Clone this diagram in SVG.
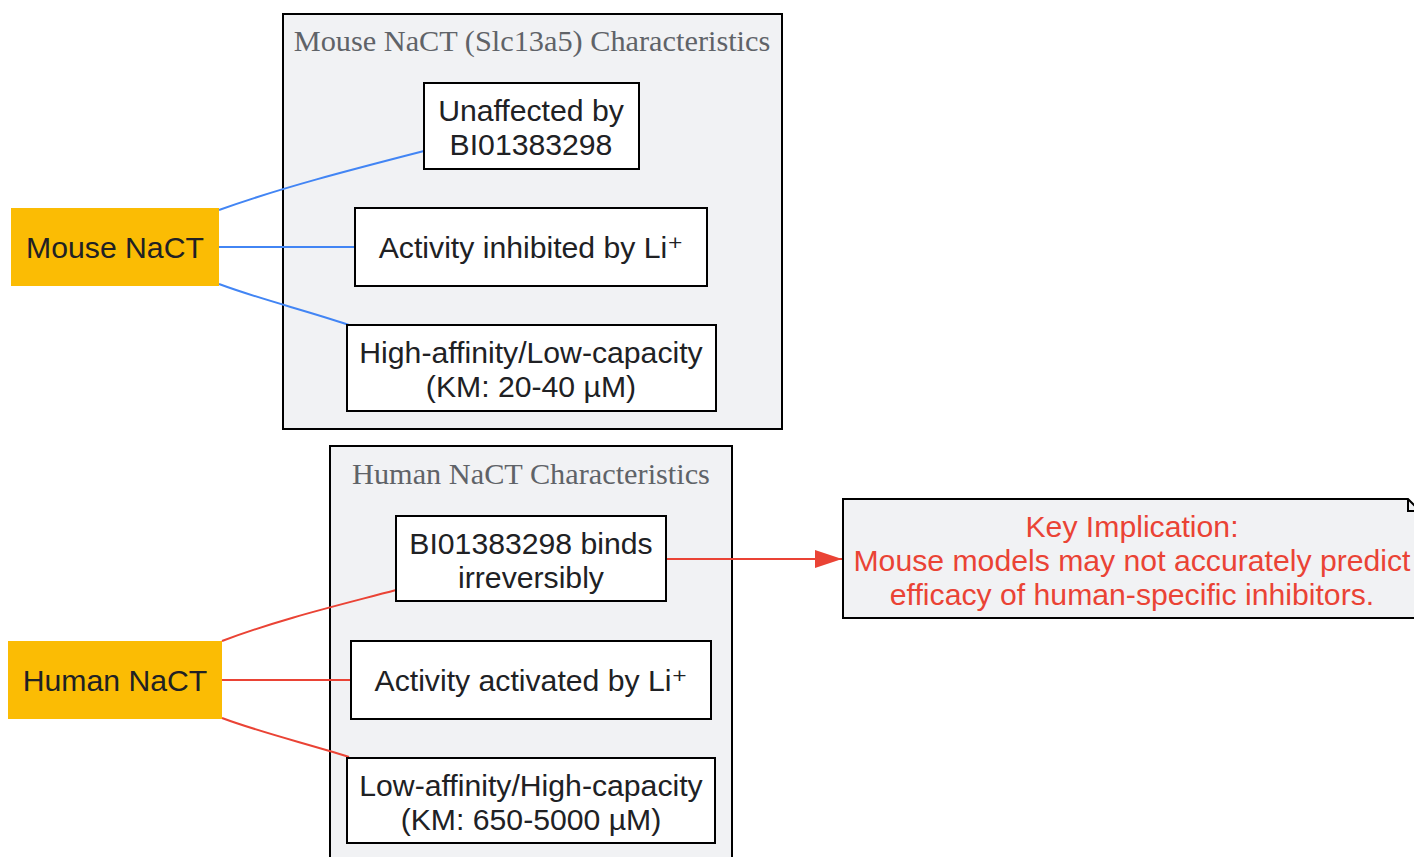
<svg xmlns="http://www.w3.org/2000/svg" width="1414" height="857" viewBox="0 0 1414 857">
<style>
.cl{fill:#f1f2f4;stroke:#000;stroke-width:2}
.ct{font-family:"Liberation Serif",serif;font-size:30.3px;fill:#5f6368;text-anchor:middle}
.bx{fill:#fff;stroke:#000;stroke-width:2}
.src{fill:#fbbc04;stroke:none}
.t{font-family:"Liberation Sans",Arial,sans-serif;font-size:30.2px;fill:#202124;text-anchor:middle}
.nt{font-family:"Liberation Sans",Arial,sans-serif;font-size:30.2px;fill:#ea4335;text-anchor:middle}
.sp{font-family:"DejaVu Sans",sans-serif}
.eb{fill:none;stroke:#4285f4;stroke-width:2}
.er{fill:none;stroke:#ea4335;stroke-width:2}
</style>
<defs>
<marker id="ah" markerWidth="28" markerHeight="20" refX="27" refY="10" orient="auto" markerUnits="userSpaceOnUse">
<path d="M0,1 L27,10 L0,19 Z" fill="#ea4335"/>
</marker>
</defs>
<rect width="1414" height="857" fill="#fff"/>
<g id="cluster_mouse">
<rect class="cl" x="283" y="14" width="499" height="415"/>
<text class="ct" x="532" y="51">Mouse NaCT (Slc13a5) Characteristics</text>
</g>
<g id="cluster_human">
<rect class="cl" x="330" y="446" width="402" height="420"/>
<text class="ct" x="531" y="484">Human NaCT Characteristics</text>
</g>
<g id="edges">
<path class="eb" d="M219,210 C280,188 350,170 424,151"/>
<path class="eb" d="M219,247 L355,247"/>
<path class="eb" d="M219,284 C262,300 305,310 349,325"/>
<path class="er" d="M222,641 C280,619 340,605 396,590"/>
<path class="er" d="M222,680 L351,680"/>
<path class="er" d="M222,718 C262,733 305,743 349,757"/>
<path class="er" d="M667,559 L842,559" marker-end="url(#ah)"/>
</g>
<g id="mouse_nact">
<rect class="src" x="11" y="208" width="208" height="78"/>
<text class="t" x="115" y="258">Mouse NaCT</text>
</g>
<g id="human_nact">
<rect class="src" x="8" y="641" width="214" height="78"/>
<text class="t" x="115" y="691">Human NaCT</text>
</g>
<g id="m1">
<rect class="bx" x="424" y="83" width="215" height="86"/>
<text class="t" x="531" y="121">Unaffected by</text>
<text class="t" x="531" y="155">BI01383298</text>
</g>
<g id="m2">
<rect class="bx" x="355" y="208" width="352" height="78"/>
<text class="t" x="531" y="258">Activity inhibited by Li<tspan class="sp">⁺</tspan></text>
</g>
<g id="m3">
<rect class="bx" x="347" y="325" width="369" height="86"/>
<text class="t" x="531" y="363">High-affinity/Low-capacity</text>
<text class="t" x="531" y="397">(KM: 20-40 µM)</text>
</g>
<g id="h1">
<rect class="bx" x="396" y="516" width="270" height="85"/>
<text class="t" x="531" y="554">BI01383298 binds</text>
<text class="t" x="531" y="588">irreversibly</text>
</g>
<g id="h2">
<rect class="bx" x="351" y="641" width="360" height="78"/>
<text class="t" x="531" y="691">Activity activated by Li<tspan class="sp">⁺</tspan></text>
</g>
<g id="h3">
<rect class="bx" x="347" y="758" width="368" height="85"/>
<text class="t" x="531" y="796">Low-affinity/High-capacity</text>
<text class="t" x="531" y="830">(KM: 650-5000 µM)</text>
</g>
<g id="note">
<path d="M843,499 L1408,499 L1420,511 L1420,618 L843,618 Z" fill="#f1f2f4" stroke="#000" stroke-width="2"/>
<path d="M1408,499 L1408,511 L1420,511" fill="none" stroke="#000" stroke-width="2"/>
<text class="nt" x="1132" y="537">Key Implication:</text>
<text class="nt" x="1132" y="571">Mouse models may not accurately predict</text>
<text class="nt" x="1132" y="605">efficacy of human-specific inhibitors.</text>
</g>
</svg>
